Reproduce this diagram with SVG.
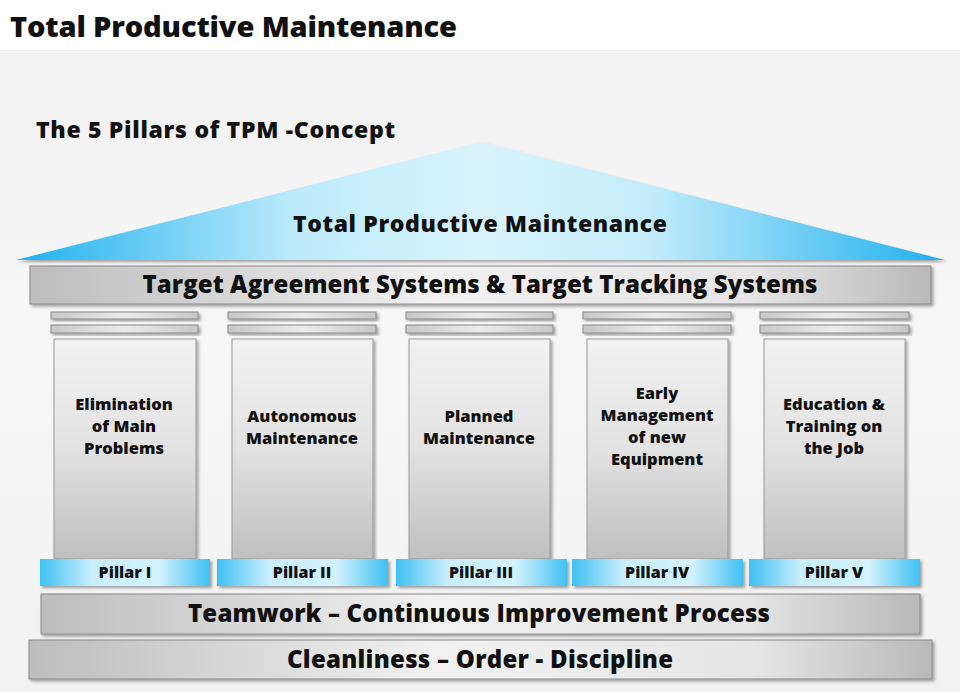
<svg xmlns="http://www.w3.org/2000/svg" width="960" height="692" viewBox="0 0 960 692">
<defs>
<linearGradient id="bg" x1="0" y1="0" x2="0" y2="1">
<stop offset="0" stop-color="#f0f0f0"/><stop offset="0.5" stop-color="#f7f7f7"/><stop offset="1" stop-color="#f2f2f2"/>
</linearGradient>
<linearGradient id="roof" x1="0" y1="0" x2="1" y2="0">
<stop offset="0" stop-color="#1eb1ee"/><stop offset="0.3" stop-color="#bdeafb"/><stop offset="0.5" stop-color="#d9f4fd"/><stop offset="0.68" stop-color="#c4ecfb"/><stop offset="1" stop-color="#1eb1ee"/>
</linearGradient>
<linearGradient id="bar" x1="0" y1="0" x2="1" y2="0">
<stop offset="0" stop-color="#bdbdbd"/><stop offset="0.45" stop-color="#f1f1f1"/><stop offset="0.8" stop-color="#e6e6e6"/><stop offset="1" stop-color="#b9b9b9"/>
</linearGradient>
<linearGradient id="cap" x1="0" y1="0" x2="1" y2="0">
<stop offset="0" stop-color="#c8c8c8"/><stop offset="0.5" stop-color="#ececec"/><stop offset="1" stop-color="#c8c8c8"/>
</linearGradient>
<linearGradient id="col" x1="0" y1="0" x2="0" y2="1">
<stop offset="0" stop-color="#f2f2f2"/><stop offset="0.5" stop-color="#e2e2e2"/><stop offset="1" stop-color="#bfbfbf"/>
</linearGradient>
<linearGradient id="lab" x1="0" y1="0" x2="1" y2="0">
<stop offset="0" stop-color="#3fc0f2"/><stop offset="0.3" stop-color="#c8eefc"/><stop offset="0.7" stop-color="#d3f2fd"/><stop offset="1" stop-color="#3fc0f2"/>
</linearGradient>
<filter id="sh" x="-5%" y="-20%" width="110%" height="150%">
<feDropShadow dx="2" dy="2" stdDeviation="1.5" flood-color="#000" flood-opacity="0.35"/>
</filter>
</defs>
<style>
text{font-family:"Open Sans","Liberation Sans",sans-serif;font-weight:800;fill:#111;}
.c{text-anchor:middle;}
.big{font-size:24px;}
.pt{font-size:16.5px;}
.pl{font-size:16px;}
.bar{fill:url(#bar);stroke:#888;stroke-width:1;filter:url(#sh);}
.cap{fill:url(#cap);stroke:#888;stroke-width:1;filter:url(#sh);}
.col{fill:url(#col);stroke:#999;stroke-width:1;filter:url(#sh);}
.lab{fill:url(#lab);stroke:none;filter:url(#sh);}
</style>
<rect x="0" y="0" width="960" height="692" fill="url(#bg)"/>
<rect x="0" y="0" width="960" height="50" fill="#ffffff"/>
<text x="10" y="37" style="font-size:29px" textLength="447">Total Productive Maintenance</text>
<text x="36" y="138" style="font-size:23px" textLength="359">The 5 Pillars of TPM -Concept</text>

<g id="roof">
<polygon points="16,260 480,142 945,260" fill="url(#roof)" filter="url(#sh)"/>
<text x="480" y="232" class="c" style="font-size:23px" textLength="374">Total Productive Maintenance</text>
</g>
<g id="target">
<rect x="30" y="266" width="901" height="38" class="bar"/>
<text x="480" y="293" class="c big" textLength="675">Target Agreement Systems &amp; Target Tracking Systems</text>
</g>

<g id="pillar1">
<rect x="51" y="312" width="147" height="7" class="cap"/>
<rect x="51" y="325" width="147" height="8" class="cap"/>
<rect x="54" y="339" width="142" height="220" class="col"/>
<text x="124" y="410" class="c pt">Elimination</text>
<text x="124" y="432" class="c pt">of Main</text>
<text x="124" y="454" class="c pt">Problems</text>
<rect x="40" y="559" width="170" height="27" class="lab"/>
<text x="125" y="578" class="c pl">Pillar I</text>
</g>
<g id="pillar2">
<rect x="228" y="312" width="148" height="7" class="cap"/>
<rect x="228" y="325" width="148" height="8" class="cap"/>
<rect x="232" y="339" width="141" height="220" class="col"/>
<text x="302" y="422" class="c pt">Autonomous</text>
<text x="302" y="444" class="c pt">Maintenance</text>
<rect x="217" y="559" width="171" height="27" class="lab"/>
<text x="302" y="578" class="c pl">Pillar II</text>
</g>
<g id="pillar3">
<rect x="406" y="312" width="147" height="7" class="cap"/>
<rect x="406" y="325" width="147" height="8" class="cap"/>
<rect x="409" y="339" width="141" height="220" class="col"/>
<text x="479" y="422" class="c pt">Planned</text>
<text x="479" y="444" class="c pt">Maintenance</text>
<rect x="396" y="559" width="171" height="27" class="lab"/>
<text x="481" y="578" class="c pl">Pillar III</text>
</g>
<g id="pillar4">
<rect x="583" y="312" width="148" height="7" class="cap"/>
<rect x="583" y="325" width="148" height="8" class="cap"/>
<rect x="587" y="339" width="141" height="220" class="col"/>
<text x="657" y="399" class="c pt">Early</text>
<text x="657" y="421" class="c pt">Management</text>
<text x="657" y="443" class="c pt">of new</text>
<text x="657" y="465" class="c pt">Equipment</text>
<rect x="572" y="559" width="171" height="27" class="lab"/>
<text x="657" y="578" class="c pl">Pillar IV</text>
</g>
<g id="pillar5">
<rect x="760" y="312" width="149" height="7" class="cap"/>
<rect x="760" y="325" width="149" height="8" class="cap"/>
<rect x="764" y="339" width="141" height="220" class="col"/>
<text x="834" y="410" class="c pt">Education &amp;</text>
<text x="834" y="432" class="c pt">Training on</text>
<text x="834" y="454" class="c pt">the Job</text>
<rect x="749" y="559" width="171" height="27" class="lab"/>
<text x="834" y="578" class="c pl">Pillar V</text>
</g>

<g id="teamwork">
<rect x="41" y="594" width="879" height="40" class="bar"/>
<text x="479" y="622" class="c big" textLength="582">Teamwork – Continuous Improvement Process</text>
</g>
<g id="cleanliness">
<rect x="29" y="640" width="903" height="39" class="bar"/>
<text x="480" y="668" class="c" style="font-size:24px" textLength="386">Cleanliness – Order - Discipline</text>
</g>
<g id="connectors"></g>
</svg>
